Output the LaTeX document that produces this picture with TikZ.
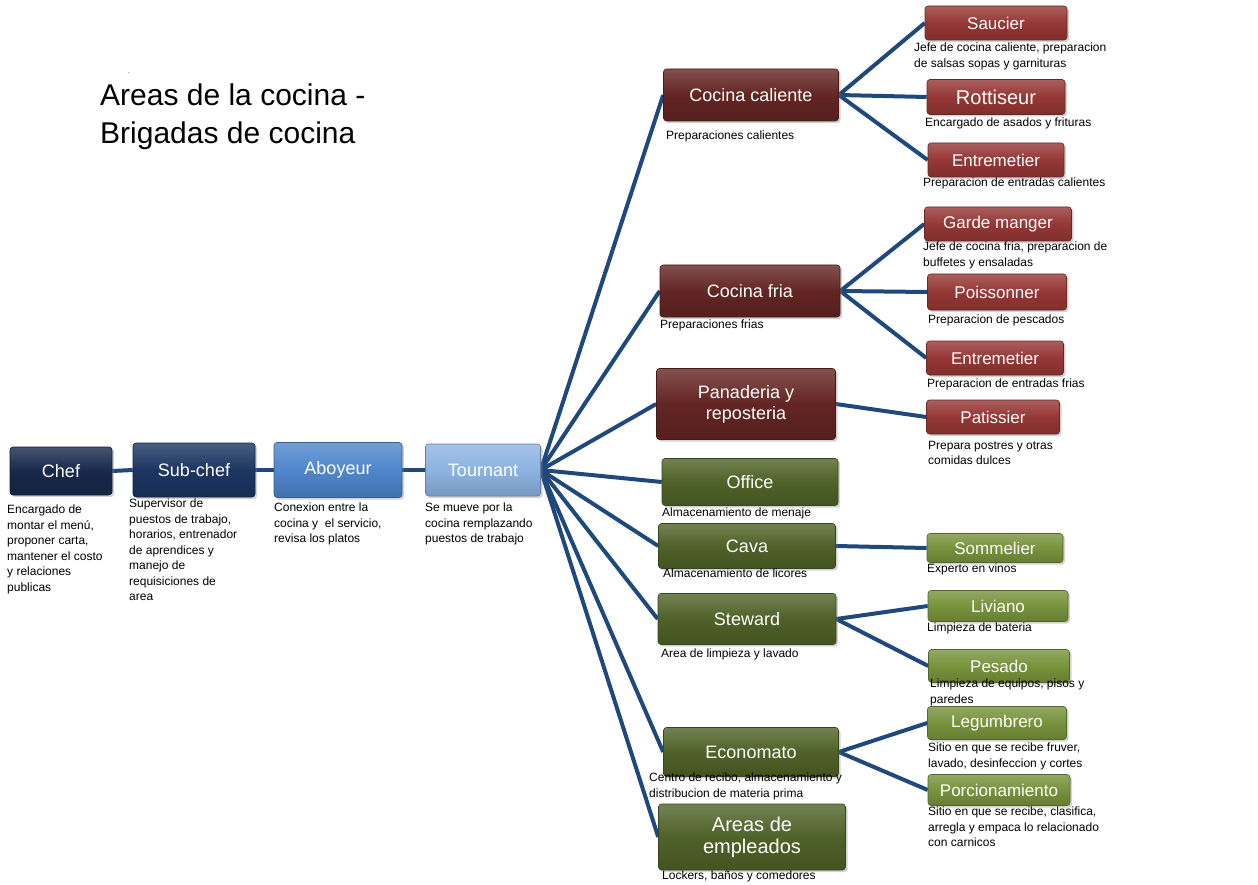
\documentclass[tikz,border=0pt]{standalone}
\usepackage{fontspec}
\setmainfont{Liberation Sans}
\usetikzlibrary{shadows,backgrounds}
\definecolor{lnk}{HTML}{1F497D}
\definecolor{cNavyA}{HTML}{17294A}
\definecolor{cNavyB}{HTML}{1C3561}
\definecolor{cBlue}{HTML}{4F86CC}
\definecolor{cLBlue}{HTML}{8DB3E2}
\definecolor{cMaroon}{HTML}{632523}
\definecolor{cRed}{HTML}{953735}
\definecolor{cOlive}{HTML}{4F6228}
\definecolor{cGreen}{HTML}{77933C}
\tikzset{
 boxbase/.style={rounded corners=3pt, draw=#1!70!black, line width=0.6pt, top color=#1!80!white, bottom color=#1!85!black, middle color=#1, text=white, align=center, inner sep=0pt, drop shadow={opacity=0.35, shadow xshift=2pt, shadow yshift=-2pt}},
 bigbox/.style={boxbase=#1, font=\fontsize{18}{21}\selectfont},
 smallbox/.style={boxbase=#1, font=\fontsize{17}{20}\selectfont},
 desc/.style={anchor=north west, inner sep=0pt, align=left, font=\fontsize{12}{15.5}\selectfont},
 link/.style={draw=lnk, line width=4pt},
}
\begin{document}
\begin{tikzpicture}[x=1pt,y=-1pt]
\useasboundingbox (0,0) rectangle (1258,885);
\node[anchor=north west, inner sep=0pt, font=\fontsize{6}{6}\selectfont] (dot) at (128,72) {.};
\node[anchor=north west, inner sep=0pt, align=left, font=\fontsize{30}{38}\selectfont] (title) at (100,84) {Areas de la cocina -\\Brigadas de cocina};
% main chain
\node[bigbox=cNavyA, minimum width=102pt, minimum height=48pt] (chef) at (61,471) {Chef};
\node[bigbox=cNavyB, minimum width=122pt, minimum height=54pt] (sub) at (194,470) {Sub-chef};
\node[bigbox=cBlue, minimum width=128pt, minimum height=55pt] (abo) at (338,470) {Aboyeur};
\node[bigbox=cLBlue, minimum width=115pt, minimum height=52pt] (tour) at (483,470) {Tournant};
% middle
\node[bigbox=cMaroon, minimum width=175pt, minimum height=52pt] (cc) at (751,95) {Cocina caliente};
\node[bigbox=cMaroon, minimum width=180pt, minimum height=52pt] (cf) at (750,291) {Cocina fria};
\node[bigbox=cMaroon, minimum width=179pt, minimum height=71pt] (pan) at (746,404) {Panaderia y\\reposteria};
\node[bigbox=cOlive, minimum width=176pt, minimum height=47pt] (off) at (750,482) {Office};
\node[bigbox=cOlive, minimum width=177pt, minimum height=45pt] (cava) at (747,546) {Cava};
\node[bigbox=cOlive, minimum width=178pt, minimum height=51pt] (stw) at (747,619) {Steward};
\node[bigbox=cOlive, minimum width=175pt, minimum height=49pt] (eco) at (751,752) {Economato};
\node[bigbox=cOlive, minimum width=187pt, minimum height=66pt, font=\fontsize{20}{22}\selectfont] (emp) at (752,837) {Areas de\\empleados};
% right
\node[smallbox=cRed, minimum width=142pt, minimum height=34pt] (sau) at (996,23) {Saucier};
\node[smallbox=cRed, minimum width=138pt, minimum height=35pt, font=\fontsize{20}{22}\selectfont] (rot) at (996,97) {Rottiseur};
\node[smallbox=cRed, minimum width=136pt, minimum height=34pt] (ent) at (996,160) {Entremetier};
\node[smallbox=cRed, minimum width=147pt, minimum height=34pt] (gar) at (998,224) {Garde manger};
\node[smallbox=cRed, minimum width=139pt, minimum height=36pt] (poi) at (997,292) {Poissonner};
\node[smallbox=cRed, minimum width=137pt, minimum height=34pt] (ent2) at (995,358) {Entremetier};
\node[smallbox=cRed, minimum width=133pt, minimum height=34pt] (pat) at (993,417) {Patissier};
\node[smallbox=cGreen, minimum width=136pt, minimum height=29pt] (som) at (995,548) {Sommelier};
\node[smallbox=cGreen, minimum width=140pt, minimum height=31pt] (liv) at (998,606) {Liviano};
\node[smallbox=cGreen, minimum width=141pt, minimum height=33pt] (pes) at (999,666) {Pesado};
\node[smallbox=cGreen, minimum width=139pt, minimum height=33pt] (leg) at (997,723) {Legumbrero};
\node[smallbox=cGreen, minimum width=142pt, minimum height=31pt] (por) at (999,790) {Porcionamiento};
% links
\begin{pgfonlayer}{background}
\draw[link] (chef.east) -- (sub.west);
\draw[link] (sub.east) -- (abo.west);
\draw[link] (abo.east) -- (tour.west);
\foreach \m in {cc,cf,pan,off,cava,stw,eco,emp} \draw[link] (tour.east) -- (\m.west);
\foreach \r in {sau,rot,ent} \draw[link] (cc.east) -- (\r.west);
\foreach \r in {gar,poi,ent2} \draw[link] (cf.east) -- (\r.west);
\draw[link] (pan.east) -- (pat.west);
\draw[link] (cava.east) -- (som.west);
\foreach \r in {liv,pes} \draw[link] (stw.east) -- (\r.west);
\foreach \r in {leg,por} \draw[link] (eco.east) -- (\r.west);
\end{pgfonlayer}
% descriptions
\node[desc] (d1) at (7,505) {Encargado de\\montar el menú,\\proponer carta,\\mantener el costo\\y relaciones\\publicas};
\node[desc] (d2) at (129,499) {Supervisor de\\puestos de trabajo,\\horarios, entrenador\\de aprendices y\\manejo de\\requisiciones de\\area};
\node[desc] (d3) at (274,503) {Conexion entre la\\cocina y\ \ el servicio,\\revisa los platos};
\node[desc] (d4) at (425,503) {Se mueve por la\\cocina remplazando\\puestos de trabajo};
\node[desc] (d5) at (666,131) {Preparaciones calientes};
\node[desc] (d6) at (914,43) {Jefe de cocina caliente, preparacion\\de salsas sopas y garnituras};
\node[desc] (d7) at (925,118) {Encargado de asados y frituras};
\node[desc] (d8) at (923,178) {Preparacion de entradas calientes};
\node[desc] (d9) at (923,242) {Jefe de cocina fria, preparacion de\\buffetes y ensaladas};
\node[desc] (d10) at (928,315) {Preparacion de pescados};
\node[desc] (d11) at (927,379) {Preparacion de entradas frias};
\node[desc] (d12) at (928,441) {Prepara postres y otras\\comidas dulces};
\node[desc] (d13) at (660,320) {Preparaciones frias};
\node[desc] (d14) at (662,508) {Almacenamiento de menaje};
\node[desc] (d15) at (663,569) {Almacenamiento de licores};
\node[desc] (d16) at (927,564) {Experto en vinos};
\node[desc] (d17) at (661,649) {Area de limpieza y lavado};
\node[desc] (d18) at (927,623) {Limpieza de bateria};
\node[desc] (d19) at (930,679) {Limpieza de equipos, pisos y\\paredes};
\node[desc] (d20) at (649,773) {Centro de recibo, almacenamiento y\\distribucion de materia prima};
\node[desc] (d21) at (928,743) {Sitio en que se recibe fruver,\\lavado, desinfeccion y cortes};
\node[desc] (d22) at (928,807) {Sitio en que se recibe, clasifica,\\arregla y empaca lo relacionado\\con carnicos};
\node[desc] (d23) at (662,871) {Lockers, baños y comedores};
\end{tikzpicture}
\end{document}
